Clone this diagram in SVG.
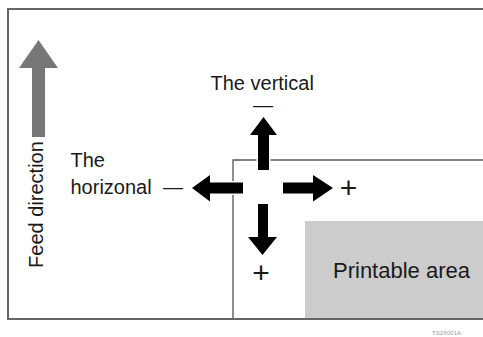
<svg xmlns="http://www.w3.org/2000/svg" width="483" height="337" viewBox="0 0 483 337">
<style>
text{font-family:"Liberation Sans",Arial,sans-serif;fill:#1a1a1a}
.lbl{font-size:20px}
.sign{font-size:30px;text-anchor:middle}
.dash{font-size:20px;text-anchor:middle}
.arr{fill:#000;stroke:#fff;stroke-width:3;paint-order:stroke;stroke-linejoin:miter}
.paper{fill:none;stroke:#555;stroke-width:1.3}
</style>
<rect width="483" height="337" fill="#fff"/>
<g id="printable-area">
<rect x="305" y="221" width="190" height="98" fill="#cccccc"/>
<text x="333" y="278" style="font-size:22px">Printable area</text>
</g>
<g id="paper">
<polyline class="paper" points="233,320 233,160 490,160"/>
</g>
<g id="frame">
<rect x="8" y="9" width="500" height="310" fill="none" stroke="#666" stroke-width="2"/>
</g>
<g id="feed-direction">
<polygon points="32,137 32,68 19,68 38.5,40 58,68 45,68 45,137" fill="#777"/>
<text class="lbl" transform="translate(43,204.5) rotate(-90)" text-anchor="middle">Feed direction</text>
</g>
<g id="connectors">
<polygon class="arr" points="258,170 258,135 250,135 263.5,117 277,135 269,135 269,170"/>
<polygon class="arr" points="243,182.5 210,182.5 210,175 192,188 210,201.5 210,193.5 243,193.5"/>
<polygon class="arr" points="283,182.5 313,182.5 313,175 333,188 313,201.5 313,193.5 283,193.5"/>
<polygon class="arr" points="258,204 258,237 248,237 262.5,255 277,237 268,237 268,204"/>
</g>
<g id="vertical-label">
<text class="lbl" x="210.5" y="90">The vertical</text>
<text class="dash" x="263" y="112">—</text>
<text class="sign" x="261" y="283">+</text>
</g>
<g id="horizontal-label">
<text class="lbl" x="70.5" y="167">The</text>
<text class="lbl" x="70.5" y="193.5">horizonal</text>
<text class="dash" x="173" y="193.5">—</text>
<text class="sign" x="348.5" y="197.5">+</text>
</g>
<text x="432" y="335" style="font-size:6px;fill:#999">TS2X001A</text>
</svg>
